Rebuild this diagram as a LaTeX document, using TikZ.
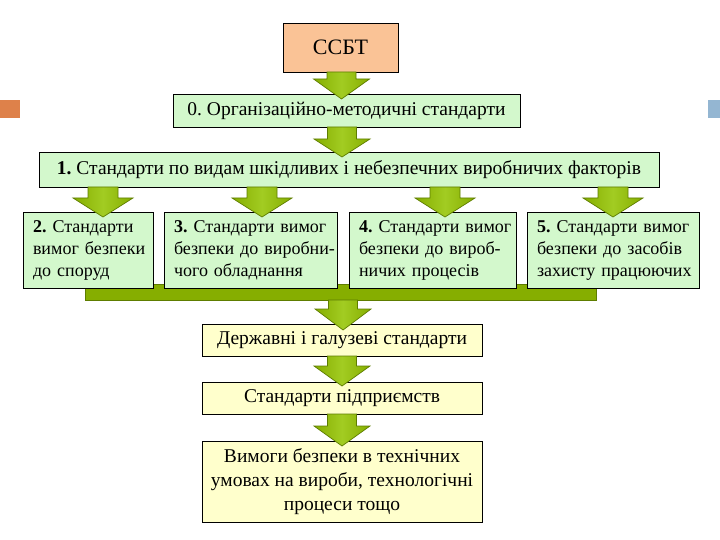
\documentclass[tikz,border=0pt]{standalone}
\usepackage{fontspec}
\setmainfont{Liberation Serif}
\usetikzlibrary{calc}
\frenchspacing
\definecolor{peach}{HTML}{FAC396}
\definecolor{lgreen}{HTML}{D3F8CC}
\definecolor{lyellow}{HTML}{FFFFCC}
\definecolor{ardark}{HTML}{86AE00}
\definecolor{arlight}{HTML}{A2CC22}
\definecolor{aredge}{HTML}{5E7D00}
\definecolor{accorange}{HTML}{DE814A}
\definecolor{accblue}{HTML}{94B6D2}
\newcommand{\fsn}{\fontsize{19.5}{23}\selectfont}
\newcommand{\fss}{\fontsize{18}{22}\selectfont}
\newcommand{\garrow}[5]{\path[garrowst] let \p1=(#1), \p2=(#2) in
  (\x2-#3,\y1) -- (\x2+#3,\y1) -- (\x2+#3,\y2+#5) -- (\x2+#4,\y2+#5) -- (\x2,\y2)
  -- (\x2-#4,\y2+#5) -- (\x2-#3,\y2+#5) -- cycle;}
\begin{document}
\begin{tikzpicture}[x=1pt,y=-1pt,
  box/.style={draw=black, line width=0.8pt, inner sep=0pt, outer sep=0pt, font=\fsn},
  gbox/.style={box, fill=lgreen},
  ybox/.style={box, fill=lyellow, align=center},
  sbox/.style={gbox, minimum height=76pt, align=left, inner xsep=10pt, font=\fss},
  garrowst/.style={draw=aredge, line width=0.7pt, left color=ardark, right color=ardark, middle color=arlight},
  barst/.style={draw=aredge, line width=0.7pt, fill=ardark, inner sep=0pt, outer sep=0pt}]
\useasboundingbox (0,0) rectangle (720,540);
% accent squares
\node[fill=accorange, inner sep=0pt, minimum width=20pt, minimum height=18pt] (sqo) at (10,109) {};
\node[fill=accblue, inner sep=0pt, minimum width=12pt, minimum height=18pt] (sqb) at (714,109) {};
% bar behind row 2
\node[barst, minimum width=511pt, minimum height=16pt] (bar) at (340.5,292) {};
% boxes
\node[box, fill=peach, minimum width=115pt, minimum height=49pt, font=\fontsize{22}{26}\selectfont] (ssbt) at (340.5,47.5) {ССБТ};
\node[gbox, minimum width=347pt, minimum height=33pt] (b0) at (346.5,110.5) {0. Організаційно-методичні стандарти};
\node[gbox, minimum width=620pt, minimum height=35pt] (b1) at (349,169.5) {\textbf{1.} Стандарти по видам шкідливих і небезпечних виробничих факторів};
\node[sbox, text width=110pt] (b2) at (88,250) {\mbox{\textbf{2.} Стандарти}\\\mbox{вимог безпеки}\\\mbox{до споруд}};
\node[sbox, text width=153pt] (b3) at (250.5,250) {\mbox{\textbf{3.} Стандарти вимог}\\\mbox{безпеки до виробни-}\\\mbox{чого обладнання}};
\node[sbox, text width=147pt] (b4) at (432.5,250) {\mbox{\textbf{4.} Стандарти вимог}\\\mbox{безпеки до вироб-}\\\mbox{ничих процесів}};
\node[sbox, text width=152pt] (b5) at (613,250) {\mbox{\textbf{5.} Стандарти вимог}\\\mbox{безпеки до засобів}\\\mbox{захисту працюючих}};
\node[ybox, minimum width=280pt, minimum height=32pt] (d1) at (342,340) {Державні і галузеві стандарти};
\node[ybox, minimum width=280pt, minimum height=32pt] (p1) at (342,398) {Стандарти підприємств};
\node[ybox, minimum width=280pt, minimum height=81pt, font=\fontsize{19.5}{24}\selectfont] (v1) at (342,481.5) {Вимоги безпеки в технічних\\умовах на вироби, технологічні\\процеси тощо};
% arrows
\garrow{ssbt.south}{[xshift=-5pt,yshift=-5pt]b0.north}{14.5pt}{28pt}{20pt}
\garrow{b0.south}{[xshift=-7pt,yshift=-5pt]b1.north}{14.5pt}{28pt}{18pt}
\garrow{b1.south}{[xshift=15pt,yshift=-5pt]b2.north}{15pt}{30pt}{19pt}
\garrow{b1.south}{[xshift=11.5pt,yshift=-5pt]b3.north}{15pt}{30pt}{19pt}
\garrow{b1.south}{[xshift=12.5pt,yshift=-5pt]b4.north}{15pt}{30pt}{19pt}
\garrow{b1.south}{[yshift=-5pt]b5.north}{15pt}{30pt}{19pt}
\garrow{bar.south}{[xshift=1pt,yshift=-6pt]d1.north}{14.5pt}{28pt}{21pt}
\garrow{d1.south}{[yshift=-4pt]p1.north}{14.5pt}{28pt}{20pt}
\garrow{p1.south}{[yshift=-5pt]v1.north}{14.5pt}{28pt}{20pt}
\end{tikzpicture}
\end{document}
